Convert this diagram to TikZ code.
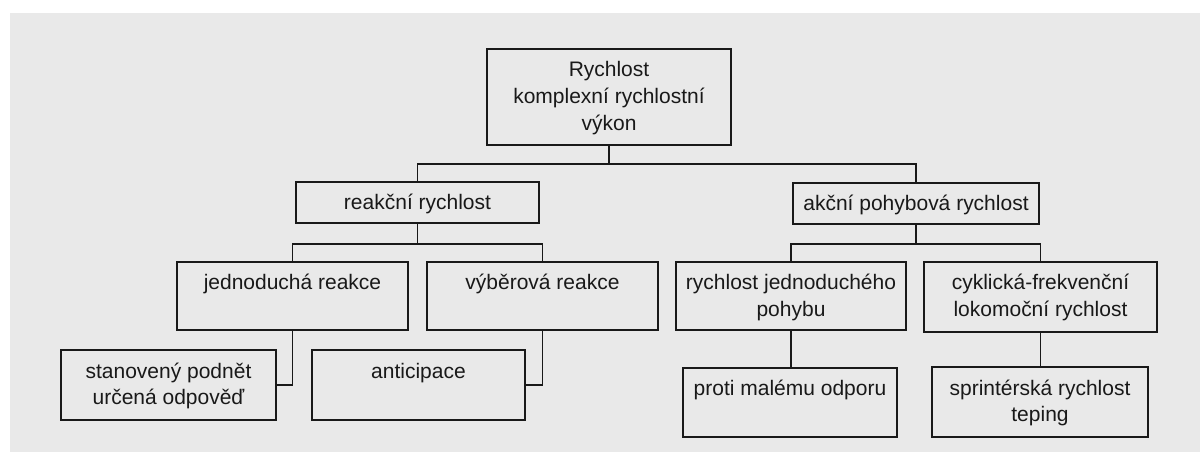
\documentclass[tikz,border=0pt]{standalone}
\usepackage{fontspec}
\setmainfont{Liberation Sans}
\usepackage{xcolor}
\usepackage{tikz}
\usetikzlibrary{positioning, calc}
\definecolor{paper}{RGB}{233,233,233}
\definecolor{ink}{RGB}{25,25,25}
\newdimen\px \px=0.02cm
\newcommand{\blocktext}[3]{\parbox[c][#2\px][t]{#1\px}{\centering\rule{0pt}{28\px}#3}}
\tikzset{
  block/.style={
    draw=ink, line width=1pt, inner sep=0pt, text=ink,
    font=\fontsize{11.95}{15.36}\selectfont
  },
  link/.style={draw=ink, line width=1pt},
}
\begin{document}
\begin{tikzpicture}[x=0.02cm, y=-0.02cm]
  \useasboundingbox (0,0) rectangle (1200,452);
  \fill[white] (0,0) rectangle (1200,452);
  \fill[paper] (10,13) rectangle (1200,452);

  \node[block] (rychlost) at (609,97)    {\blocktext{244}{96}{Rychlost\\komplexní rychlostní\\výkon}};
  \node[block] (reakcni)  at (417.5,202.5) {\blocktext{243}{41}{reakční rychlost}};
  \node[block] (akcni)    at (916,203.5)  {\blocktext{246}{41}{akční pohybová rychlost}};
  \node[block] (jednoducha) at (292.5,296) {\blocktext{231}{68}{jednoduchá reakce}};
  \node[block] (vyberova)   at (542.5,296) {\blocktext{231}{68}{výběrová reakce}};
  \node[block] (pohyb)      at (791,296)   {\blocktext{230}{68}{rychlost jednoduchého\\pohybu}};
  \node[block] (cyklicka)   at (1040.5,297) {\blocktext{233}{70}{cyklická-frekvenční\\lokomoční rychlost}};
  \node[block] (podnet)     at (168.5,385) {\blocktext{215}{70}{stanovený podnět\\určená odpověď}};
  \node[block] (anticipace) at (418.5,385) {\blocktext{213}{70}{anticipace}};
  \node[block] (odpor)      at (790,402.5) {\blocktext{214}{69}{proti malému odporu}};
  \node[block] (sprint)     at (1040,402)  {\blocktext{216}{70}{sprintérská rychlost\\teping}};

  \draw[link] (rychlost.south) -- ++(0,18) -| (reakcni.north)
              (rychlost.south) ++(0,18) -| (akcni.north);
  \draw[link] (reakcni.south) -- ++(0,20) -| (jednoducha.north)
              (reakcni.south) ++(0,20) -| (vyberova.north);
  \draw[link] (akcni.south) -- ++(0,19) -| (pohyb.north)
              (akcni.south) ++(0,19) -| (cyklicka.north);
  \draw[link] (jednoducha.south) |- (podnet.east);
  \draw[link] (vyberova.south) |- (anticipace.east);
  \draw[link] (pohyb.south) -- (pohyb.south |- odpor.north);
  \draw[link] (cyklicka.south) -- (cyklicka.south |- sprint.north);
\end{tikzpicture}
\end{document}
